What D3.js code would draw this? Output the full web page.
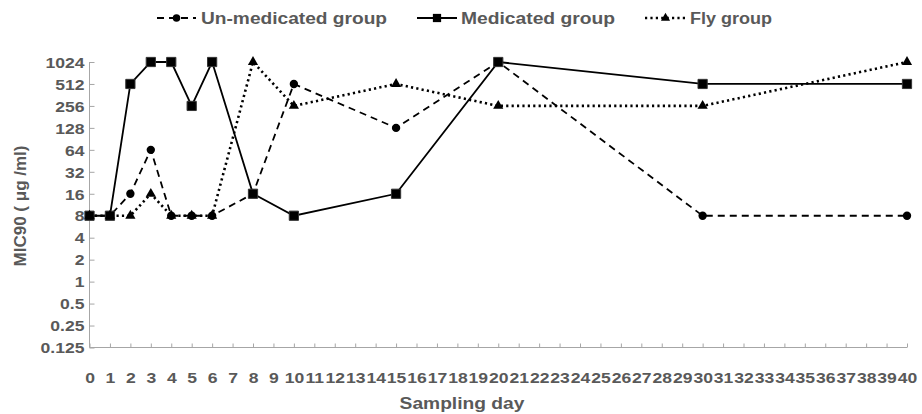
<!DOCTYPE html>
<html><head><meta charset="utf-8">
<script src="https://cdn.jsdelivr.net/npm/d3@7"></script>
<style>body{margin:0;background:#fff}svg{display:block}text{font-family:"Liberation Sans",Arial,sans-serif;font-weight:bold;fill:#595959}</style>
</head><body>
<svg id="c" width="922" height="414"></svg>
<script>
const days = [0,1,2,3,4,5,6,8,10,15,20,30,40];
const unmedicated = [8,8,16,64,8,8,8,16,512,128,1024,8,8];
const medicated = [8,8,512,1024,1024,256,1024,16,8,16,1024,512,512];
const fly = [8,8,8,16,8,8,8,1024,256,512,256,256,1024];
const seriesNames = ["Un-medicated group","Medicated group","Fly group"];
const yTicks = [0.125,0.25,0.5,1,2,4,8,16,32,64,128,256,512,1024];
const xTicks = [0,1,2,3,4,5,6,7,8,9,10,11,12,13,14,15,16,17,18,19,20,21,22,23,24,25,26,27,28,29,30,31,32,33,34,35,36,37,38,39,40];
const yTitle = "MIC90 ( μg /ml)";
const xTitle = "Sampling day";

const svg = d3.select("#c");
const x = d3.scaleLinear().domain([0,40]).range([89.5,907]);
const y = d3.scaleLog().base(2).domain([0.125,1024]).range([347.5,62]);
const axisCol = "#a6a6a6";

// y axis
const gy = svg.append("g").attr("transform","translate(89.5,0)")
  .call(d3.axisRight(y).tickValues(yTicks).tickSize(5).tickFormat(d=>String(d)));
gy.select(".domain").attr("stroke",axisCol).attr("d","M0,62V347.5");
gy.selectAll(".tick line").attr("stroke",axisCol);
gy.selectAll(".tick text").attr("x",-5).attr("text-anchor","end").attr("font-size",15)
  .attr("dy","0.35em").attr("fill","#595959").attr("font-family",null)
  .classed("stretch",true).attr("data-f",1.17);

// x axis
const gx = svg.append("g").attr("transform","translate(0,347.5)")
  .call(d3.axisTop(x).tickValues(xTicks).tickSize(4).tickFormat(d=>String(d)));
gx.select(".domain").attr("stroke",axisCol).attr("d","M89.5,0H907");
gx.selectAll(".tick line").attr("stroke",axisCol);
gx.selectAll(".tick text").attr("y",35).attr("dy",0).attr("font-size",15)
  .attr("fill","#595959").attr("font-family",null)
  .classed("stretch",true).attr("data-f",1.17);

// titles
svg.append("text").attr("x",462).attr("y",409).attr("text-anchor","middle")
  .attr("font-size",16).classed("stretch",true).attr("data-f",1.2).text(xTitle);
svg.append("text").attr("transform","translate(26,206) rotate(-90)").attr("text-anchor","middle")
  .attr("font-size",17).text(yTitle);

const styles = [
  {vals:unmedicated, dash:"7,5", width:1.8, sym:d3.symbolCircle, size:55},
  {vals:medicated, dash:null, width:1.8, sym:d3.symbolSquare, size:85},
  {vals:fly, dash:"2.2,3.2", width:2.6, sym:d3.symbolTriangle, size:45}
];
const line = d3.line().x(d=>x(d[0])).y(d=>y(d[1]));
styles.forEach(s=>{
  const pts = days.map((d,i)=>[d,s.vals[i]]);
  svg.append("path").datum(pts).attr("d",line).attr("fill","none").attr("stroke","#000")
    .attr("stroke-width",s.width).attr("stroke-dasharray",s.dash);
});
styles.forEach(s=>{
  const pts = days.map((d,i)=>[d,s.vals[i]]);
  svg.append("g").selectAll("path").data(pts).join("path")
    .attr("transform",d=>`translate(${x(d[0])},${y(d[1])})`)
    .attr("d",d3.symbol().type(s.sym).size(s.size)).attr("fill","#000")
    .attr("stroke",s.sym===d3.symbolSquare?"#333":"none").attr("stroke-width",1);
});

// legend
const legendItems = [
  {x0:157,x1:196,tx:201,w:186},
  {x0:417,x1:457,tx:461,w:154},
  {x0:645,x1:686,tx:690,w:82}
];
legendItems.forEach((l,i)=>{
  const s = styles[i], ly = 18;
  svg.append("line").attr("x1",l.x0).attr("x2",l.x1).attr("y1",ly).attr("y2",ly)
    .attr("stroke","#000").attr("stroke-width",s.width).attr("stroke-dasharray",s.dash);
  svg.append("path").attr("transform",`translate(${(l.x0+l.x1)/2},${ly})`)
    .attr("d",d3.symbol().type(s.sym).size(s.size*0.8)).attr("fill","#000");
  svg.append("text").attr("x",l.tx).attr("y",ly).attr("dy","0.36em").attr("font-size",16)
    .attr("textLength",l.w).attr("lengthAdjust","spacingAndGlyphs").text(seriesNames[i]);
});

svg.selectAll("text.stretch").each(function(){
  const w = this.getComputedTextLength();
  const f = +this.getAttribute("data-f");
  d3.select(this).attr("textLength",w*f).attr("lengthAdjust","spacingAndGlyphs");
});
</script>
</body></html>
